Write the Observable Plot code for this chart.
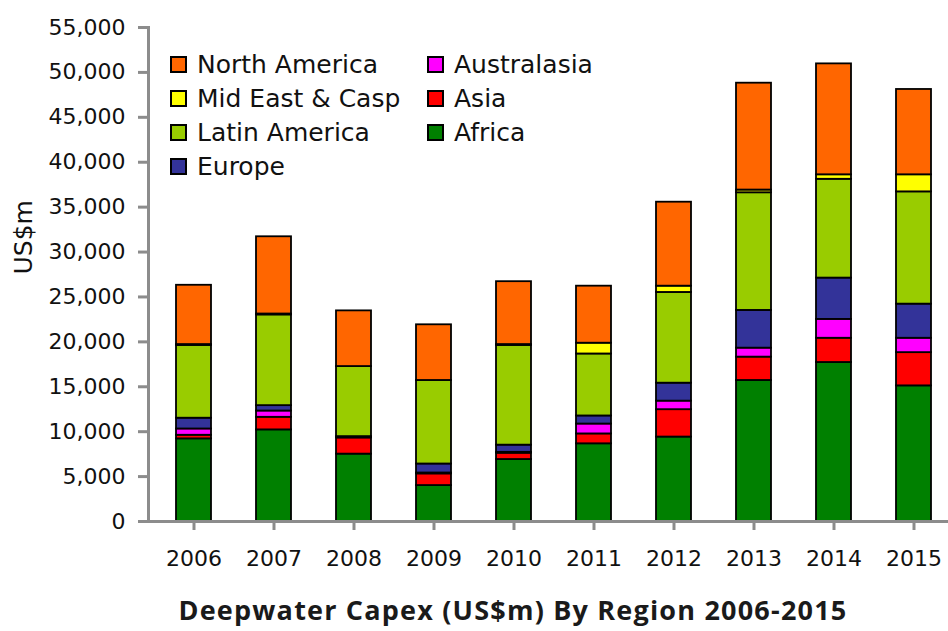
<!DOCTYPE html>
<html>
<head>
<meta charset="utf-8">
<script src="https://cdn.jsdelivr.net/npm/d3@7"></script>
<script src="https://cdn.jsdelivr.net/npm/@observablehq/plot@0.6"></script>
<style>
  body { margin: 0; background: #fff; }
  #wrap { position: relative; width: 948px; height: 631px; overflow: hidden; }
  #legend { position: absolute; left: 170px; top: 47px; display: grid;
    grid-template-rows: repeat(4, 34px); grid-auto-flow: column; grid-template-columns: 257px auto;
    font-family: "DejaVu Sans"; font-size: 25px; color: #111; }
  .item { display: flex; align-items: center; white-space: nowrap; }
  .sw { width: 13px; height: 13px; border: 2px solid #000; margin-right: 10px; flex: none; }
  #title { position: absolute; top: 590px; left: 0; width: 948px; box-sizing: border-box; padding-left: 78px;
    text-align: center; line-height: 40px; font-family: "Open Sans"; font-weight: bold; font-size: 27px;
    letter-spacing: 1.2px; color: #1a1a1a; }
</style>
</head>
<body>
<div id="wrap">
  <div id="chart"></div>
  <div id="legend"></div>
  <div id="title">Deepwater Capex (US$m) By Region 2006-2015</div>
</div>
<script>
// Data (US$m)
const years = ["2006","2007","2008","2009","2010","2011","2012","2013","2014","2015"];
// stack order, bottom to top
const regions = ["Africa","Asia","Australasia","Europe","Latin America","Mid East & Casp","North America"];
const colors  = ["#008000","#ff0000","#ff00ff","#333399","#99cc00","#ffff00","#ff6600"];
const africa       = [9200, 10200, 7500, 4000, 6900, 8650, 9400, 15700, 17700, 15100];
const asia         = [400, 1400, 1800, 1300, 700, 1100, 3050, 2600, 2700, 3700];
const australasia  = [700, 700, 0, 100, 100, 1100, 950, 1000, 2100, 1600];
const europe       = [1200, 600, 150, 1000, 800, 900, 2000, 4200, 4600, 3800];
const latinAmerica = [8100, 10100, 7800, 9300, 11100, 6900, 10100, 13100, 11000, 12500];
const midEastCasp  = [100, 100, 0, 0, 100, 1200, 700, 300, 500, 1900];
const northAmerica = [6600, 8600, 6200, 6200, 7000, 6350, 9350, 11900, 12350, 9500];
const yTicks = [0,5000,10000,15000,20000,25000,30000,35000,40000,45000,50000,55000];
const legendOrder = ["North America","Mid East & Casp","Latin America","Europe","Australasia","Asia","Africa"];

const series = [africa, asia, australasia, europe, latinAmerica, midEastCasp, northAmerica];
const table = years.flatMap((year, i) => regions.map((region, r) => ({year, region, value: series[r][i]})));

const axisColor = "#8c8c8c";
const chart = Plot.plot({
  width: 948,
  height: 590,
  marginLeft: 148,
  marginRight: 0,
  marginTop: 27,
  marginBottom: 69,
  style: { fontFamily: "DejaVu Sans", fontSize: "22px", color: "#111", background: "#fff" },
  x: { domain: years, range: [148, 959.4], paddingInner: 0.56, paddingOuter: 0.323, align: 0.5, label: null },
  y: { domain: [0, 55000] },
  color: { domain: regions, range: colors },
  marks: [
    Plot.barY(table, { x: "year", y: "value", fill: "region", stroke: "black", strokeWidth: 1.8 }),
    Plot.ruleY([0], { stroke: axisColor, strokeWidth: 3 }),
    Plot.frame({ anchor: "left", stroke: axisColor, strokeWidth: 3 }),
    Plot.axisY({ ticks: yTicks, tickFormat: d3.format(","), tickSize: 10, tickPadding: 13,
      stroke: axisColor, strokeWidth: 3, fill: "#111", label: null }),
    Plot.axisX({ tickSize: 9, tickPadding: 20, stroke: axisColor, strokeWidth: 3, fill: "#111", label: null }),
    Plot.text(["US$m"], { frameAnchor: "left", rotate: -90, dx: -125, fontSize: 25, fill: "#111" })
  ]
});
document.getElementById("chart").appendChild(chart);

const legend = document.getElementById("legend");
for (const name of legendOrder) {
  const item = document.createElement("div");
  item.className = "item";
  const sw = document.createElement("span");
  sw.className = "sw";
  sw.style.background = colors[regions.indexOf(name)];
  item.appendChild(sw);
  item.appendChild(document.createTextNode(name));
  legend.appendChild(item);
}
</script>
</body>
</html>
